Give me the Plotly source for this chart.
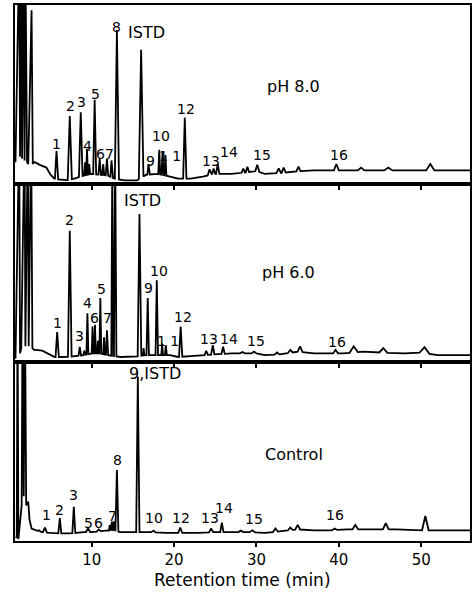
import numpy as np
import plotly.graph_objects as go
from plotly.subplots import make_subplots

# ---------------- data ----------------
# x: retention time (min); y: detector response, 0-100 = panel height

# pH 8.0 (top panel)
p8_solv_t = [0.75, 1.2, 1.3, 1.4, 1.55, 1.65, 1.85, 1.95, 2.15, 2.3, 2.7, 2.85, 3.0]
p8_solv_v = [12, 130, 15, 130, 14, 130, 13, 130, 12, 11, 97, 11, 12]
p8_base_t = [3.1, 3.7, 4.5, 5.0, 5.5, 7, 8, 9, 10, 11, 12, 12.6, 14, 15.5, 16.6, 18, 19.5, 20.5, 22,
             23.5, 25, 27, 30, 31, 33, 35, 37, 45, 56]
p8_base_v = [12, 10.5, 9, 5, 2.5, 2, 3, 4.5, 5.5, 5, 4.5, 3, 1.8, 1.8, 5, 5.5, 4, 2.8, 2.8,
             4, 5.5, 5.5, 7, 5.5, 6, 7, 7.4, 7.4, 7.4]
p8_peak_t = [5.73, 7.34, 8.67, 9.2, 9.43, 9.7, 10.36, 10.97, 11.4, 11.85, 12.4, 13.06, 16.0,
             16.9, 18.2, 18.6, 18.95, 21.3, 24.3, 24.8, 25.3, 28.4, 28.9, 30.1, 32.7, 33.3,
             35.1, 39.7, 42.7, 46.0, 51.1]
p8_peak_h = [18.3, 37.8, 40, 12, 19.4, 11, 47, 14, 11, 14, 13, 86, 75,
             11, 19, 18, 16, 37, 8, 8.5, 11, 8.5, 9.5, 10.6, 8.5, 9,
             9.5, 11, 9, 9, 11]
p8_peak_w = [0.2, 0.25, 0.22, 0.11, 0.11, 0.11, 0.18, 0.15, 0.12, 0.15, 0.12, 0.25, 0.28,
             0.15, 0.12, 0.12, 0.12, 0.2, 0.22, 0.2, 0.2, 0.2, 0.2, 0.25, 0.28, 0.25,
             0.25, 0.3, 0.4, 0.5, 0.5]
p8_lab_text = ["1", "2", "3", "4", "5", "6", "7", "8", "ISTD", "9", "10", "1 1", "12", "13", "14",
               "15", "16", "pH 8.0"]
p8_lab_t = [5.77, 7.46, 8.79, 9.52, 10.48, 11.09, 12.18, 13.02, 16.7, 17.13, 18.46, 19.5, 21.48,
            24.5, 26.7, 30.66, 39.97, 34.5]
p8_lab_v = [22.2, 43.3, 45.6, 21.1, 50, 16.7, 16.7, 87.8, 84.4, 12.8, 26.7, 15.6, 41.7,
            12.8, 17.8, 16.1, 16.1, 54.4]

# pH 6.0 (middle panel)
p6_solv_t = [0.75, 1.2, 1.3, 1.45, 1.85, 1.95, 2.25, 2.35, 2.65, 2.8, 3.0]
p6_solv_v = [2, 130, 5, 8, 130, 9, 130, 9, 130, 8, 7]
p6_base_t = [3.2, 4, 5, 5.5, 7, 8, 9, 10, 11, 12, 13.5, 15, 16.5, 18, 19.5, 20.5, 22, 23.5, 25,
             27, 30, 31, 33, 35, 37, 39, 40.5, 43, 45, 48, 50, 52, 56]
p6_base_v = [7, 6.5, 4, 3, 3, 3.5, 4, 5, 5, 4, 3, 3, 4, 4, 4, 3, 3.5, 4, 4.5,
             5, 5, 4, 4.5, 6, 5, 5, 5, 6, 5.5, 5, 5.5, 4, 4]
p6_peak_t = [5.81, 7.34, 8.55, 9.1, 9.48, 10.1, 10.4, 10.75, 11.05, 11.5, 11.85, 12.5, 12.85,
             15.8, 16.3, 16.8, 17.9, 18.55, 19.0, 20.8, 23.9, 24.7, 25.95, 28.3, 29.7, 32.5,
             34.1, 35.3, 39.6, 41.8, 45.4, 50.4]
p6_peak_h = [17, 73.6, 8.7, 6.5, 27.5, 20, 21, 12, 36, 14, 18, 115, 120,
             83, 8, 36, 46, 10.5, 9.5, 20, 6.5, 9.6, 8.7, 5.8, 6, 5.5,
             7, 9, 7, 9, 8, 8.5]
p6_peak_w = [0.2, 0.22, 0.15, 0.12, 0.12, 0.1, 0.1, 0.1, 0.12, 0.1, 0.12, 0.12, 0.15,
             0.22, 0.1, 0.15, 0.15, 0.1, 0.12, 0.2, 0.2, 0.2, 0.2, 0.3, 0.3, 0.3,
             0.3, 0.3, 0.3, 0.5, 0.5, 0.6]
p6_lab_text = ["ISTD", "2", "1", "3", "4", "6", "5", "7", "9", "10", "1 1", "12", "13", "14",
               "15", "16", "pH 6.0"]
p6_lab_t = [16.2, 7.34, 5.81, 8.55, 9.43, 10.36, 11.17, 11.97, 16.89, 18.22, 19.3, 21.03, 24.18,
            26.68, 29.9, 39.77, 33.9]
p6_lab_v = [90.6, 79.8, 22.2, 14.7, 33.2, 24.7, 41.2, 24.7, 41.6, 51, 12, 25.6, 12.8,
            12.8, 12, 11.5, 50.5]

# Control (bottom panel)
ct_solv_t = [0.75, 0.9, 1.0, 1.1, 1.5, 1.6, 1.75, 1.9, 2.05, 2.3, 2.45, 2.6]
ct_solv_v = [2, 2, 130, 1, 20, 130, 25, 130, 20, 22, 12, 8]
ct_base_t = [2.7, 3.5, 4, 5, 6, 7, 8, 9, 10, 11, 12, 13.5, 15, 16, 17, 19, 21, 23, 25, 27, 29,
             31, 33, 35, 37, 39, 41, 44, 47, 49, 52, 56]
ct_base_v = [7, 5.5, 5, 4.5, 4.3, 4.3, 4.5, 5, 5, 5.5, 6, 5, 5, 5, 5, 4.5, 4.5, 4.5, 5, 5, 5,
             4.5, 5.5, 6.5, 6, 6, 6.5, 6.5, 6.5, 6, 6, 6]
ct_peak_t = [3.6, 4.32, 6.13, 7.83, 9.56, 10.85, 12.2, 12.45, 12.7, 13.06, 15.6, 17.5, 20.75,
             24.5, 25.8, 28.1, 29.5, 32.3, 34.1, 35.0, 39.5, 42.0, 45.7, 50.5]
ct_peak_h = [6, 7.5, 12.8, 19.2, 7, 6.5, 9, 10.8, 11, 39.7, 92, 5.8, 7.5,
             7, 10.2, 5.8, 6, 7, 7.5, 9, 7, 9, 10, 14]
ct_peak_w = [0.2, 0.25, 0.18, 0.18, 0.25, 0.25, 0.1, 0.1, 0.1, 0.18, 0.2, 0.25, 0.25,
             0.25, 0.2, 0.3, 0.35, 0.3, 0.3, 0.3, 0.3, 0.35, 0.35, 0.4]
ct_lab_text = ["9,ISTD", "8", "3", "1", "2", "5", "6", "7", "10", "12", "13", "14", "15", "16",
               "Control"]
ct_lab_t = [17.7, 13.18, 7.83, 4.52, 6.13, 9.56, 10.88, 12.5, 17.6, 20.84, 24.3, 26.07, 29.7,
            39.57, 34.5]
ct_lab_v = [93.7, 45.3, 25.7, 14.5, 17.3, 10.2, 10.2, 14, 12.7, 12.7, 12.7, 18.3, 12.1,
            14.5, 48.6]

x_ticks = [10, 20, 30, 40, 50]
x_title = "Retention time (min)"


# ---------------- build traces ----------------
def chromatogram(solv_t, solv_v, base_t, base_v, pk_t, pk_h, pk_w):
    pts = list(zip(solv_t, solv_v))
    for t, v in zip(base_t, base_v):
        if all(abs(t - p) > w for p, w in zip(pk_t, pk_w)):
            pts.append((t, v))
    for p, h, w in zip(pk_t, pk_h, pk_w):
        pts.append((p - w, float(np.interp(p - w, base_t, base_v))))
        pts.append((p, h))
        pts.append((p + w, float(np.interp(p + w, base_t, base_v))))
    pts.sort(key=lambda q: q[0])
    return [q[0] for q in pts], [q[1] for q in pts]


panels = [
    (p8_solv_t, p8_solv_v, p8_base_t, p8_base_v, p8_peak_t, p8_peak_h, p8_peak_w,
     p8_lab_text, p8_lab_t, p8_lab_v),
    (p6_solv_t, p6_solv_v, p6_base_t, p6_base_v, p6_peak_t, p6_peak_h, p6_peak_w,
     p6_lab_text, p6_lab_t, p6_lab_v),
    (ct_solv_t, ct_solv_v, ct_base_t, ct_base_v, ct_peak_t, ct_peak_h, ct_peak_w,
     ct_lab_text, ct_lab_t, ct_lab_v),
]

FONT = "DejaVu Sans"
fig = make_subplots(rows=3, cols=1, shared_xaxes=True, vertical_spacing=0)

annotations = []
for i, (st, sv, bt, bv, pt, ph, pw, lt, lx, ly) in enumerate(panels):
    row = i + 1
    xs, ys = chromatogram(st, sv, bt, bv, pt, ph, pw)
    fig.add_trace(go.Scatter(x=xs, y=ys, mode="lines",
                             line=dict(color="black", width=1.8),
                             hoverinfo="skip", showlegend=False), row=row, col=1)
    yref = "y" if row == 1 else f"y{row}"
    for txt, tx, ty in zip(lt, lx, ly):
        big = txt.startswith("pH") or txt == "Control" or "ISTD" in txt
        annotations.append(dict(x=tx, y=ty, xref="x", yref=yref, text=txt,
                                showarrow=False, xanchor="center", yanchor="middle",
                                font=dict(family=FONT, size=16 if big else 14, color="black")))

annotations.append(dict(x=0.5, y=-0.073, xref="paper", yref="paper", text=x_title,
                        showarrow=False, xanchor="center", yanchor="middle",
                        font=dict(family=FONT, size=17, color="black")))

for row in (1, 2, 3):
    fig.update_xaxes(range=[0.69, 55.92], tickvals=x_ticks, ticks="outside", ticklen=4,
                     tickwidth=1.5, tickcolor="black", showgrid=False, zeroline=False,
                     showline=True, mirror=True, linecolor="black", linewidth=2,
                     showticklabels=(row == 3),
                     tickfont=dict(family=FONT, size=15, color="black"), row=row, col=1)
    fig.update_yaxes(range=[0, 100], showticklabels=False, ticks="", showgrid=False,
                     zeroline=False, showline=True, mirror=True, linecolor="black",
                     linewidth=2, row=row, col=1)

fig.update_layout(width=474, height=592, margin=dict(l=15, r=2, t=5, b=51),
                  paper_bgcolor="white", plot_bgcolor="white",
                  annotations=annotations, showlegend=False)

fig.write_html("out.html", config={"displayModeBar": False},
               post_script="document.body.style.margin='0';"
                           "document.body.style.overflow='hidden';")
